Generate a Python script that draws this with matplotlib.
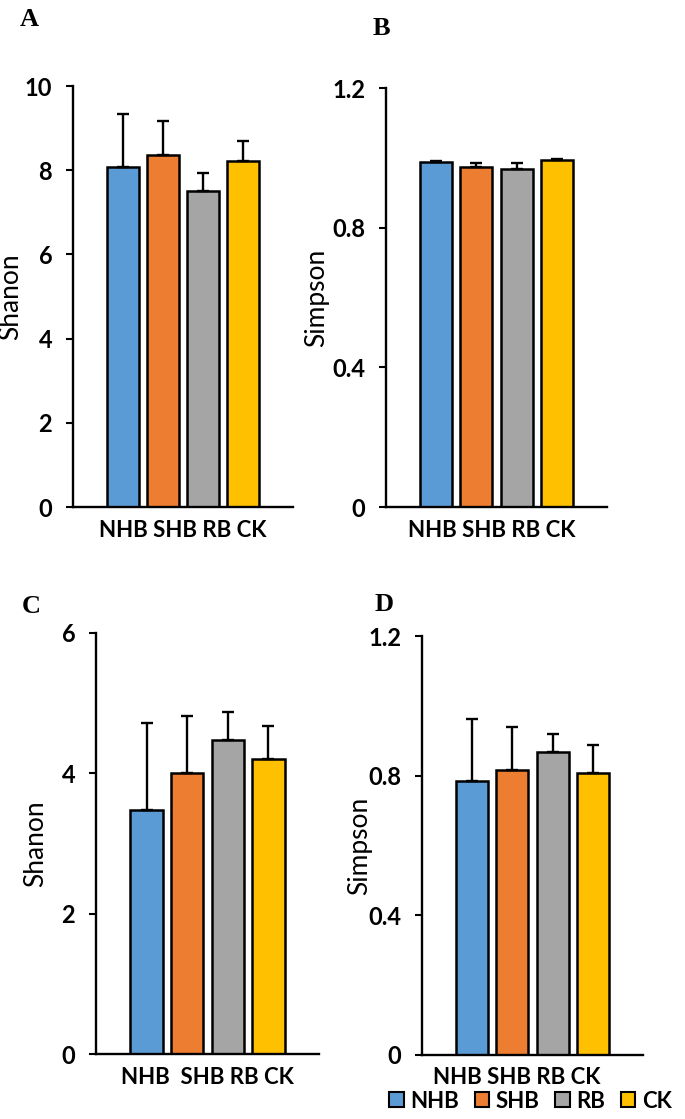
import matplotlib
matplotlib.use('Agg')
import matplotlib.pyplot as plt
from matplotlib.patches import Patch
import numpy as np

plt.rcParams['font.family'] = ['Lato', 'DejaVu Sans']

groups = ['NHB', 'SHB', 'RB', 'CK']
colors = ['#5B9BD5', '#ED7D31', '#A5A5A5', '#FFC000']

shannon_a = [8.07, 8.36, 7.51, 8.21]
shannon_a_err = [1.26, 0.81, 0.43, 0.48]
simpson_b = [0.988, 0.974, 0.968, 0.994]
simpson_b_err = [0.002, 0.011, 0.017, 0.002]
shannon_c = [3.48, 4.01, 4.47, 4.20]
shannon_c_err = [1.24, 0.80, 0.41, 0.47]
simpson_d = [0.786, 0.817, 0.869, 0.809]
simpson_d_err = [0.175, 0.121, 0.049, 0.080]

ticks_shannon_a = [0, 2, 4, 6, 8, 10]
ticks_shannon_c = [0, 2, 4, 6]
ticks_simpson = [0, 0.4, 0.8, 1.2]
labels_simpson = ['0', '0.4', '0.8', '1.2']

cat_label = ' '.join(groups)
cat_label_c = 'NHB  SHB RB CK'

W, H = 685, 1119
fig = plt.figure(figsize=(W / 100, H / 100), dpi=100)

# letter, values, errors, ylabel, yticks, yticklabels, category text,
# axes box (px), category text x pos, ylabel x pos, letter pos (px)
panels = [
    ('A', shannon_a, shannon_a_err, 'Shanon', ticks_shannon_a, None, cat_label,
     (73, 86, 293, 507), 1.5, -0.225, (20, 8)),
    ('B', simpson_b, simpson_b_err, 'Simpson', ticks_simpson, labels_simpson, cat_label,
     (386, 88, 607, 507), 1.38, -0.255, (373, 17)),
    ('C', shannon_c, shannon_c_err, 'Shanon', ticks_shannon_c, None, cat_label_c,
     (96, 633, 319, 1054), 1.5, -0.215, (22, 595)),
    ('D', simpson_d, simpson_d_err, 'Simpson', ticks_simpson, labels_simpson, cat_label,
     (422, 636, 643, 1055), 1.12, -0.226, (375, 593)),
]

x = np.arange(len(groups))
for letter, vals, errs, ylab, yt, ytl, cat, box, xlab_pos, ylab_pos, lpos in panels:
    x0, y0, x1, y1 = box
    ax = fig.add_axes([x0 / W, 1 - y1 / H, (x1 - x0) / W, (y1 - y0) / H])
    ax.bar(x, vals, width=0.8, color=colors, edgecolor='black', linewidth=1.8,
           yerr=[np.zeros(len(vals)), errs], capsize=4,
           error_kw=dict(elinewidth=1.7, capthick=1.7, ecolor='black'))
    ax.set_xlim(-1.25, 4.25)
    ax.set_ylim(yt[0], yt[-1])
    ax.set_yticks(yt)
    if ytl is not None:
        ax.set_yticklabels(ytl)
    ax.spines['top'].set_visible(False)
    ax.spines['right'].set_visible(False)
    ax.spines['left'].set_linewidth(1.7)
    ax.spines['bottom'].set_linewidth(1.7)
    ax.tick_params(axis='y', direction='out', length=5, width=1.5, pad=10,
                   labelsize=17)
    for t in ax.get_yticklabels():
        t.set_fontweight('bold')
    ax.set_xticks([xlab_pos])
    ax.set_xticklabels([cat], fontsize=16, fontweight='bold')
    ax.tick_params(axis='x', length=0, pad=9)
    ax.set_ylabel(ylab, fontsize=19)
    ax.yaxis.set_label_coords(ylab_pos, 0.5)
    fig.text(lpos[0] / W, 1 - lpos[1] / H, letter, family='Liberation Serif',
             fontweight='bold', fontsize=19, va='top', ha='left')

handles = [Patch(facecolor=c, edgecolor='black', linewidth=1.5) for c in colors]
fig.legend(handles, groups, loc='center right', bbox_to_anchor=(683 / W, 1 - 1101 / H),
           ncol=4, frameon=False, handlelength=0.65, handleheight=0.65,
           handletextpad=0.3, columnspacing=0.7, borderpad=0.0,
           prop=dict(family='Lato', weight='bold', size=16))

fig.savefig('out.png', dpi=100)
